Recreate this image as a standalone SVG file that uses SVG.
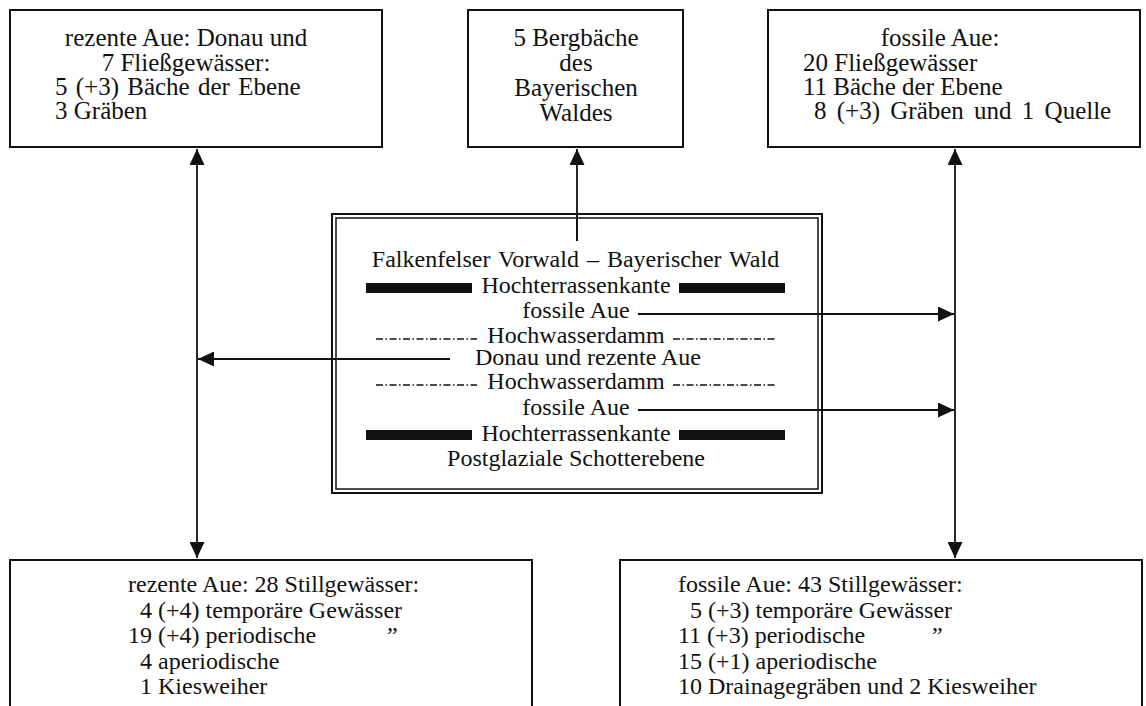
<svg xmlns="http://www.w3.org/2000/svg" width="1146" height="706" viewBox="0 0 1146 706">
<style>
text{font-family:"Liberation Serif","Times New Roman",serif;font-size:24px;fill:#111}
.t{font-size:25px}
.box{fill:#fff;stroke:#111;stroke-width:2}
.c{text-anchor:middle}
.ln{stroke:#111;stroke-width:1.8;fill:none}
.dd{stroke:#111;stroke-width:1.5;stroke-dasharray:7 2.5 1.5 2.5;fill:none}
.bar{fill:#111}
</style>
<defs>
<marker id="ah" viewBox="0 0 16 15" refX="16" refY="7.5" markerWidth="16" markerHeight="15" markerUnits="userSpaceOnUse" orient="auto-start-reverse">
<path d="M0,0 L16,7.5 L0,15 Z" fill="#111"/>
</marker>
</defs>
<g id="connectors">
<line class="ln" x1="197" y1="149" x2="197" y2="558" marker-start="url(#ah)" marker-end="url(#ah)"/>
<line class="ln" x1="955" y1="149" x2="955" y2="558" marker-start="url(#ah)" marker-end="url(#ah)"/>
<line class="ln" x1="577" y1="241" x2="577" y2="149" marker-end="url(#ah)"/>
<line class="ln" x1="450" y1="359" x2="198" y2="359" marker-end="url(#ah)"/>
<line class="ln" x1="638" y1="314" x2="954" y2="314" marker-end="url(#ah)"/>
<line class="ln" x1="638" y1="410" x2="954" y2="410" marker-end="url(#ah)"/>
</g>
<g id="n-rezente-fliess">
<rect class="box" x="10" y="10" width="372" height="137"/>
<text class="c t" x="186" y="46">rezente Aue: Donau und</text>
<text class="c t" x="186" y="71">7 Fließgewässer:</text>
<text class="t" x="55" y="95" word-spacing="2">5 (+3) Bäche der Ebene</text>
<text class="t" x="55" y="119">3 Gräben</text>
</g>
<g id="n-bergbaeche">
<rect class="box" x="468" y="10" width="215" height="137"/>
<text class="c t" x="576" y="46">5 Bergbäche</text>
<text class="c t" x="576" y="71">des</text>
<text class="c t" x="576" y="96">Bayerischen</text>
<text class="c t" x="576" y="121">Waldes</text>
</g>
<g id="n-fossile-fliess">
<rect class="box" x="768" y="10" width="372" height="137"/>
<text class="c t" x="940" y="46">fossile Aue:</text>
<text class="t" x="803" y="71">20 Fließgewässer</text>
<text class="t" x="803" y="95">11 Bäche der Ebene</text>
<text class="t" x="814" y="119" word-spacing="4">8 (+3) Gräben und 1 Quelle</text>
</g>
<g id="n-center">
<rect x="332" y="214" width="490" height="279" fill="none" stroke="#111" stroke-width="2"/>
<rect x="336" y="218" width="482" height="271" fill="none" stroke="#111" stroke-width="1.5"/>
<line class="ln" x1="577" y1="214" x2="577" y2="241"/>
<text class="c" x="575.5" y="267" word-spacing="2">Falkenfelser Vorwald – Bayerischer Wald</text>
<rect class="bar" x="366" y="283" width="106" height="10"/>
<text class="c" x="576" y="293">Hochterrassenkante</text>
<rect class="bar" x="679" y="283" width="106" height="10"/>
<text class="c" x="576" y="318">fossile Aue</text>
<line class="dd" x1="376" y1="339" x2="477" y2="339"/>
<text class="c" x="576" y="343">Hochwasserdamm</text>
<line class="dd" x1="673" y1="339" x2="775" y2="339"/>
<text class="c" x="588" y="365">Donau und rezente Aue</text>
<line class="dd" x1="376" y1="385" x2="477" y2="385"/>
<text class="c" x="576" y="389">Hochwasserdamm</text>
<line class="dd" x1="673" y1="385" x2="775" y2="385"/>
<text class="c" x="576" y="415">fossile Aue</text>
<rect class="bar" x="366" y="430" width="106" height="10"/>
<text class="c" x="576" y="441">Hochterrassenkante</text>
<rect class="bar" x="679" y="430" width="106" height="10"/>
<text class="c" x="576" y="466">Postglaziale Schotterebene</text>
</g>
<g id="n-rezente-still">
<rect class="box" x="10" y="560" width="522" height="160"/>
<text x="128" y="592">rezente Aue: 28 Stillgewässer:</text>
<text x="140" y="618">4 (+4) temporäre Gewässer</text>
<text x="128" y="643">19 (+4) periodische</text>
<text x="387" y="643">”</text>
<text x="140" y="669">4 aperiodische</text>
<text x="140" y="694">1 Kiesweiher</text>
</g>
<g id="n-fossile-still">
<rect class="box" x="620" y="560" width="522" height="160"/>
<text x="678" y="592">fossile Aue: 43 Stillgewässer:</text>
<text x="690" y="618">5 (+3) temporäre Gewässer</text>
<text x="678" y="643">11 (+3) periodische</text>
<text x="932" y="643">”</text>
<text x="678" y="669">15 (+1) aperiodische</text>
<text x="678" y="694">10 Drainagegräben und 2 Kiesweiher</text>
</g>
</svg>
